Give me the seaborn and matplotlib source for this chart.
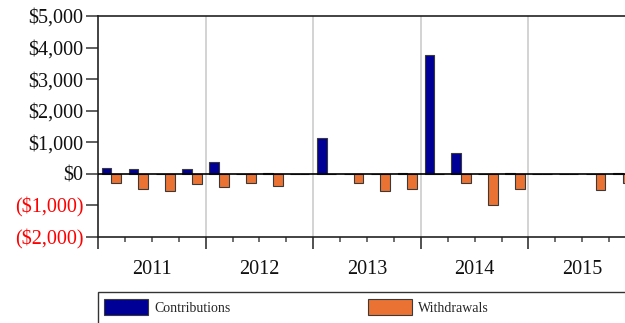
import matplotlib
matplotlib.use("Agg")
import matplotlib.pyplot as plt
from matplotlib.patches import Patch, Rectangle
from matplotlib.ticker import FixedLocator
import seaborn as sns
import pandas as pd

# Quarterly cash flows, 2011-2015
years = ["2011", "2012", "2013", "2014", "2015"]
quarters = [f"{y} Q{q}" for y in years for q in range(1, 5)]
contributions = [190, 160, 0, 160,
                 390, 0, 20, 0,
                 1120, 0, 10, 15,
                 3765, 655, 0, 40,
                 0, 0, 0, 20]
withdrawals = [-300, -465, -550, -330,
               -420, -300, -370, 0,
               0, -285, -550, -495,
               0, -285, -990, -495,
               0, 0, -505, -300]
series_names = ["Contributions", "Withdrawals"]
y_ticks = [-2000, -1000, 0, 1000, 2000, 3000, 4000, 5000]

BLUE = "#000096"
ORANGE = "#EA7333"
EDGE = "#3a3a3a"

df = pd.DataFrame({
    "quarter": quarters * 2,
    "value": contributions + withdrawals,
    "series": [series_names[0]] * len(quarters) + [series_names[1]] * len(quarters),
})

sns.set_style("white")
plt.rcParams["font.family"] = ["Liberation Serif", "DejaVu Serif"]

W, H = 625, 323
fig = plt.figure(figsize=(W / 100, H / 100), dpi=100)
left, right, top, bottom = 98, 636, 16, 237
ax = fig.add_axes([left / W, (H - bottom) / H, (right - left) / W, (bottom - top) / H])

sns.barplot(data=df, x="quarter", y="value", hue="series", order=quarters,
            hue_order=series_names, palette=[BLUE, ORANGE], width=0.72,
            edgecolor=EDGE, linewidth=0.8, errorbar=None, legend=False,
            saturation=1, ax=ax, zorder=2)

ax.set_xlim(-0.5, len(quarters) - 0.5)
ax.set_ylim(-2000, 5000)
ax.set_xlabel("")
ax.set_ylabel("")

# Year boundaries: light vertical gridlines
for b in [3.5, 7.5, 11.5, 15.5]:
    ax.axvline(b, color="#cccccc", linewidth=1.2, zorder=0)
ax.axhline(0, color="black", linewidth=1.2, zorder=3)

# x ticks: long marks at year boundaries, short marks at quarter boundaries
ax.xaxis.set_major_locator(FixedLocator([-0.5, 3.5, 7.5, 11.5, 15.5, 19.5]))
ax.xaxis.set_minor_locator(FixedLocator([i - 0.5 for i in range(20) if i % 4 != 0]))
ax.set_xticklabels([])
ax.tick_params(axis="x", which="major", direction="out", length=8.5, width=1.2,
               color="#333333", bottom=True)
ax.tick_params(axis="x", which="minor", direction="out", length=3.6, width=1.2,
               color="#555555", bottom=True)

for i, y in enumerate(years):
    ax.text(4 * i + 1.5, -0.145, y, transform=ax.get_xaxis_transform(),
            ha="center", va="center", fontsize=14.5, color="#111111")

# y ticks with currency formatting, negatives in red parentheses
ax.set_yticks(y_ticks)
labels = [f"${v:,}" if v >= 0 else f"(${-v:,})" for v in y_ticks]
ax.set_yticklabels(labels, fontsize=14.5)
for lab, v in zip(ax.get_yticklabels(), y_ticks):
    lab.set_color("red" if v < 0 else "#111111")
ax.tick_params(axis="y", direction="out", length=8.5, width=1.2, color="#444444",
               left=True, pad=2)

for side in ["left", "top", "bottom"]:
    ax.spines[side].set_visible(True)
    ax.spines[side].set_color("#222222")
    ax.spines[side].set_linewidth(1.2)
ax.spines["right"].set_visible(False)

# Legend box along the bottom edge
fig.patches.append(Rectangle((left / W, -0.2), 1.0, (H - 292) / H + 0.2,
                             transform=fig.transFigure, facecolor="white",
                             edgecolor="#333333", linewidth=1.0, zorder=0))
handles = [Patch(facecolor=BLUE, edgecolor=EDGE, linewidth=0.8),
           Patch(facecolor=ORANGE, edgecolor=EDGE, linewidth=0.8)]
leg = fig.legend(handles, series_names, loc="upper left",
                 bbox_to_anchor=(104 / W, (H - 299) / H),
                 ncol=2, frameon=False, fontsize=10,
                 handlelength=3.17, handleheight=1.4, handletextpad=0.43,
                 columnspacing=9.9, borderpad=0, borderaxespad=0)

fig.savefig("out.png", dpi=100)
